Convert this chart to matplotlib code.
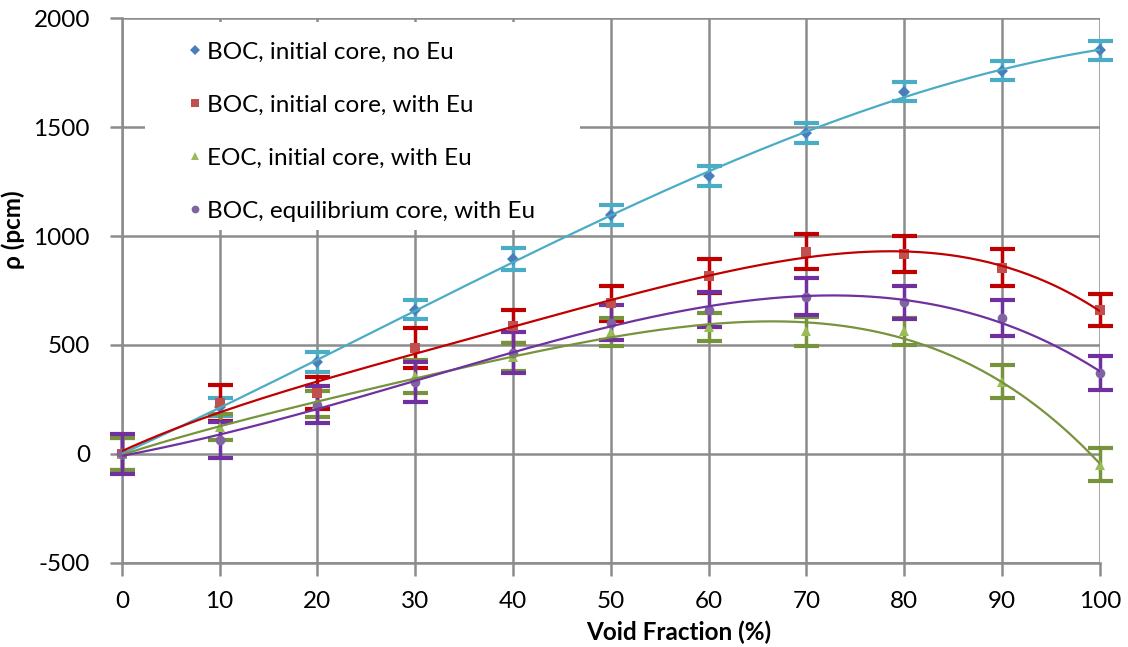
import numpy as np
import matplotlib
matplotlib.use("Agg")
import matplotlib.pyplot as plt
from matplotlib.patches import Rectangle

plt.rcParams['font.family'] = ['Lato', 'DejaVu Sans']
plt.rcParams['axes.unicode_minus'] = False

void_fraction = [0, 10, 20, 30, 40, 50, 60, 70, 80, 90, 100]

boc_init_noeu = [0, 215, 423, 661, 893, 1096, 1275, 1472, 1662, 1758, 1853]
boc_init_noeu_err = [75, 42, 45, 44, 50, 45, 45, 45, 43, 43, 43]

boc_init_eu = [0, 234, 280, 485, 586, 691, 817, 928, 916, 855, 661]
boc_init_eu_err = [80, 82, 75, 92, 76, 80, 77, 80, 82, 86, 75]

eoc_init_eu = [0, 122, 230, 356, 445, 560, 584, 562, 562, 332, -50]
eoc_init_eu_err = [75, 60, 60, 75, 65, 63, 65, 65, 62, 77, 76]

boc_eq_eu = [0, 64, 225, 332, 465, 603, 662, 722, 695, 625, 370]
boc_eq_eu_err = [90, 84, 85, 92, 95, 80, 80, 84, 77, 82, 78]

labels = ["BOC, initial core, no Eu", "BOC, initial core, with Eu",
          "EOC, initial core, with Eu", "BOC, equilibrium core, with Eu"]

series = [
    (boc_init_noeu, boc_init_noeu_err, 'D', '#4a7ebb', '#4bacc6', 3, 6),
    (boc_init_eu, boc_init_eu_err, 's', '#c0504d', '#c00000', 4, 7),
    (eoc_init_eu, eoc_init_eu_err, '^', '#9bbb59', '#77933c', 4, 7),
    (boc_eq_eu, boc_eq_eu_err, 'o', '#8064a2', '#7030a0', 4, 7),
]

FS = 17.5

fig = plt.figure(figsize=(11.28, 6.47), dpi=100)
ax = fig.add_axes([0.108, 0.13, 0.867, 0.842])

x = np.array(void_fraction, dtype=float)
xs = np.linspace(0, 100, 300)
handles = []
for (y, e, m, mc, lc, order, ms), lab in zip(series, labels):
    y = np.array(y, dtype=float)
    eb = ax.errorbar(x, y, yerr=e, fmt='none', ecolor=lc, elinewidth=2.5,
                     capsize=9, capthick=3, zorder=3)
    for art in eb.lines[1] + eb.lines[2]:
        art.set_clip_on(False)
    h, = ax.plot(x, y, linestyle='none', marker=m, color=mc, markersize=ms,
                 markeredgewidth=0, zorder=4, label=lab, clip_on=False)
    handles.append(h)
    coef = np.polyfit(x, y, order)
    ax.plot(xs, np.polyval(coef, xs), color=lc, lw=1.6, zorder=5)

ax.set_xlim(0, 100)
ax.set_ylim(-500, 2000)
ax.set_xticks(np.arange(0, 101, 10))
ax.set_yticks(np.arange(-500, 2001, 500))
ax.grid(True, color='#8c8c8c', lw=1.8)
ax.set_axisbelow(True)
for s in ['top', 'right']:
    ax.spines[s].set_visible(False)
for s in ['left', 'bottom']:
    ax.spines[s].set_color('#8c8c8c')
    ax.spines[s].set_linewidth(1.8)
ax.tick_params(axis='both', colors='#8c8c8c', length=9, width=1.8,
               labelcolor='black', labelsize=FS)
ax.tick_params(axis='x', pad=11)
ax.tick_params(axis='y', pad=14)
ax.set_xlabel('Void Fraction (%)', fontsize=FS, fontweight='bold', labelpad=6)
ax.xaxis.set_label_coords(0.5695, -0.106)
ax.set_ylabel('ρ (pcm)', fontsize=FS, fontweight='bold', labelpad=4)
ax.yaxis.set_label_coords(-0.099, 0.611)

# white legend background box
ax.add_patch(Rectangle((0.0235, 0.611), 0.445, 0.382, transform=ax.transAxes,
                       facecolor='white', edgecolor='none', zorder=2))

leg = ax.legend(handles=handles, labels=labels, loc='upper left',
                bbox_to_anchor=(0.0647, 0.957), fontsize=FS,
                frameon=False, labelspacing=1.32, handletextpad=0.1,
                handlelength=0.8, borderpad=0, markerscale=0.8,
                borderaxespad=0)
leg.set_zorder(6)

fig.savefig('out.png', dpi=100)
